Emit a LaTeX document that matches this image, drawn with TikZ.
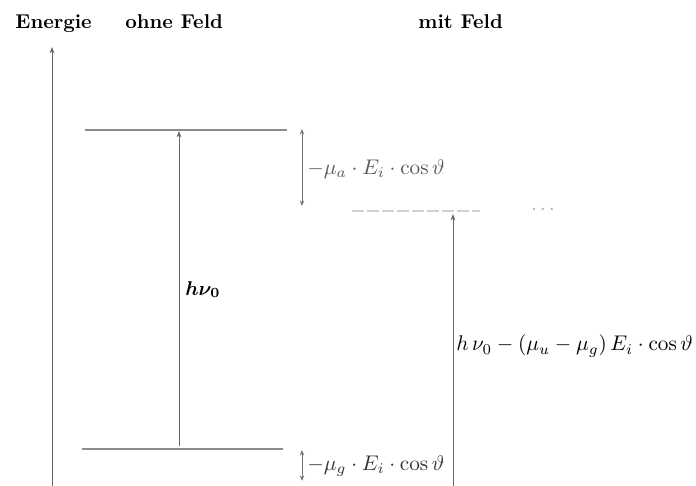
\documentclass[tikz,border=0pt]{standalone}
\usepackage{bm}
\usetikzlibrary{arrows.meta}
\begin{document}
\begin{tikzpicture}[x=0.5pt,y=-0.5pt,
  level/.style={draw=black!45,line width=0.6pt},
  faint/.style={draw=black!18,line width=0.6pt,dash pattern=on 6pt off 1.5pt},
  arr/.style={draw=black!60,line width=0.45pt,-{Stealth[length=3.2pt,width=2.4pt]}},
  darr/.style={draw=black!55,line width=0.4pt,{Stealth[length=2.8pt,width=2.2pt]}-{Stealth[length=2.8pt,width=2.2pt]}},
  head/.style={font=\bfseries,anchor=base west,inner sep=0pt},
  lab/.style={anchor=west,inner sep=0pt,scale=1.06}]
\useasboundingbox (0,0) rectangle (696,486);
% headings
\node[head] (energie) at (15,29) {Energie};
\node[head] (ohne) at (125,29) {ohne Feld};
\node[head] (mit) at (418,29) {mit Feld};
% energy axis
\coordinate (axb) at (52,490);
\coordinate (axt) at (52,47);
\draw[arr] (axb) -- (axt);
% levels without field
\coordinate (u1) at (85,130); \coordinate (u2) at (287,130);
\coordinate (g1) at (82,449); \coordinate (g2) at (283,449);
\draw[level] (u1) -- (u2);
\draw[level] (g1) -- (g2);
% transition without field
\coordinate (tb) at (179,446); \coordinate (tt) at (179,131);
\draw[arr] (tb) -- (tt);
\node[inner sep=0pt,anchor=base west] (hnu) at (185,295) {$\bm{h\nu_0}$};
% upper shift
\coordinate (sa1) at (302,129); \coordinate (sa2) at (302,206);
\draw[darr] (sa1) -- (sa2);
\node[lab,text=black!65] (mua) at (307,169) {$-\mu_a\cdot E_i\cdot\cos\vartheta$};
% faint level with field
\coordinate (f1) at (352,211); \coordinate (f2) at (480,211);
\draw[faint] (f1) -- (f2);
\node[text=black!35,inner sep=0pt] (dots) at (543,210) {$\cdots$};
% lower shift
\coordinate (sg1) at (302,450); \coordinate (sg2) at (302,481);
\draw[darr] (sg1) -- (sg2);
\node[lab,text=black!80] (mug) at (307,466) {$-\mu_g\cdot E_i\cdot\cos\vartheta$};
% transition with field
\coordinate (wb) at (453,490); \coordinate (wt) at (453,214);
\draw[arr] (wb) -- (wt);
\node[lab] (hnuf) at (456,346) {$h\,\nu_0-(\mu_u-\mu_g)\,E_i\cdot\cos\vartheta$};
\end{tikzpicture}
\end{document}
